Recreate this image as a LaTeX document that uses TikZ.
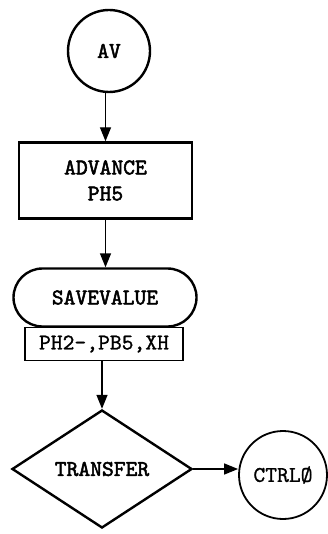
\documentclass[tikz,border=0pt]{standalone}
\usepackage{fontspec}
\newfontfamily\flowtt{lmmono10-regular.otf}[FakeBold=2.2]
\newfontfamily\flowttlight{lmmono10-regular.otf}[FakeBold=1]
\usepackage{tikz}
\usetikzlibrary{positioning, arrows.meta, shapes.geometric}

\tikzset{
  lbl/.style={font=\fontsize{22.5}{26}\selectfont\flowtt, align=center},
  conn/.style={lbl, draw, circle, line width=2.4pt, inner sep=0pt},
  procbox/.style={lbl, draw, line width=2.4pt, inner sep=0pt},
  flow/.style={line width=1.4pt, -{Triangle[length=14pt, width=11pt]}}
}

\begin{document}
\begin{tikzpicture}[x=1pt, y=-1pt]
    \useasboundingbox (0,0) rectangle (327,534);
    % blocks
    \node[conn, minimum size=82pt] (av) at (109,51) {AV};
    \node[procbox, minimum width=173pt, minimum height=76pt] (adv) at (105.5,180.5) {ADVANCE\\PH5};
    \node[procbox, rounded corners=29pt, minimum width=183pt, minimum height=58pt] (save) at (105,297.5) {SAVEVALUE};
    \node[draw, line width=1.8pt, minimum width=158pt, minimum height=33pt, inner sep=0pt,
          font=\fontsize{22.5}{26}\selectfont\flowttlight] (savearg) at (104,344) {PH2-,PB5,XH};
    \node[procbox, diamond, minimum width=180pt, minimum height=118pt] (xfer) at (102,469) {TRANSFER};
    \node[conn, line width=1.8pt, minimum size=88pt, font=\fontsize{22.5}{26}\selectfont\flowttlight] (ctrl) at (283,475) {CTRLØ};
    % connectors
    \draw[flow] (av.south -| adv.north) -- (adv.north);
    \draw[flow] (adv.south) -- (adv.south |- save.north);
    \draw[flow] (savearg.south -| xfer.north) -- (xfer.north);
    \draw[flow] (xfer.east) -- (xfer.east -| ctrl.west);
\end{tikzpicture}
\end{document}
